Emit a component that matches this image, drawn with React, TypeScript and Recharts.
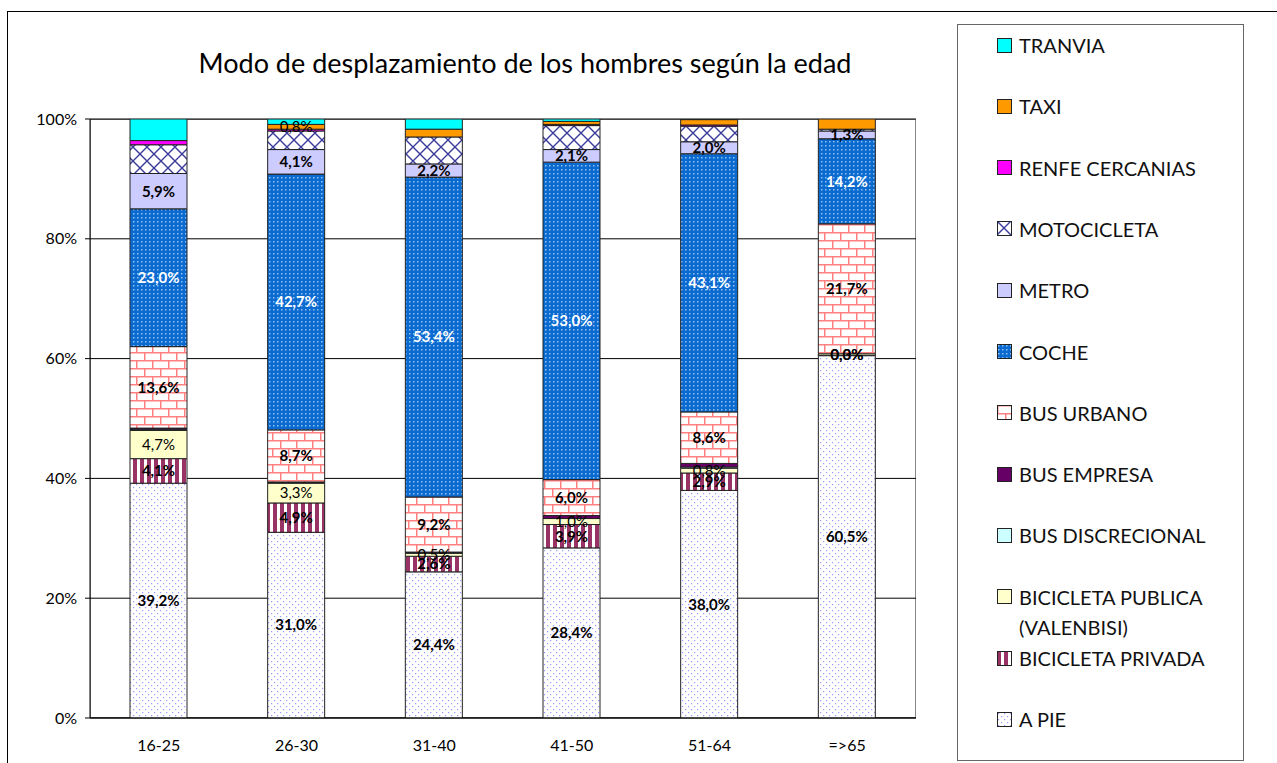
import React from "react";
import {
  BarChart,
  Bar,
  XAxis,
  YAxis,
  CartesianGrid,
  LabelList,
} from "recharts";

const FONT = "Lato, 'Noto Sans', sans-serif";

const ages = ["16-25", "26-30", "31-40", "41-50", "51-64", "=>65"];

// percentages per age group, bottom of the stack first
const aPie = [39.2, 31.0, 24.4, 28.4, 38.0, 60.5];
const biciPrivada = [4.1, 4.9, 2.6, 3.9, 2.9, 0.0];
const biciPublica = [4.7, 3.3, 0.5, 1.0, 0.8, 0.3];
const busDiscrecional = [0.2, 0.1, 0.1, 0.0, 0.2, 0.0];
const busEmpresa = [0.2, 0.1, 0.1, 0.5, 0.6, 0.0];
const busUrbano = [13.6, 8.7, 9.2, 6.0, 8.6, 21.7];
const coche = [23.0, 42.7, 53.4, 53.0, 43.1, 14.2];
const metro = [5.9, 4.1, 2.2, 2.1, 2.0, 1.3];
const motocicleta = [4.8, 3.1, 4.5, 4.0, 2.6, 0.3];
const renfe = [0.7, 0.3, 0.0, 0.2, 0.2, 0.0];
const taxi = [0.0, 0.8, 1.3, 0.5, 0.9, 1.7];
const tranvia = [3.6, 0.9, 1.7, 0.4, 0.1, 0.0];
const taxiLabels = ["", "0,8%", "", "", "", ""];

const yTicks = [0, 20, 40, 60, 80, 100];

// key, legend name, values, fill, label style (null = no label)
const series = [
  { key: "apie", name: "A PIE", values: aPie, fill: "url(#pApie)", label: { bold: true, color: "#000" } },
  { key: "bpriv", name: "BICICLETA PRIVADA", values: biciPrivada, fill: "url(#pBpriv)", label: { bold: true, color: "#000" } },
  { key: "bpub", name: "BICICLETA PUBLICA\n(VALENBISI)", values: biciPublica, fill: "#FFFFCC", label: { bold: false, color: "#000" } },
  { key: "bdisc", name: "BUS DISCRECIONAL", values: busDiscrecional, fill: "#CCFFFF", label: null },
  { key: "bemp", name: "BUS EMPRESA", values: busEmpresa, fill: "#660066", label: null },
  { key: "burb", name: "BUS URBANO", values: busUrbano, fill: "url(#pBurb)", label: { bold: true, color: "#000" } },
  { key: "coche", name: "COCHE", values: coche, fill: "url(#pCoche)", label: { bold: true, color: "#fff" } },
  { key: "metro", name: "METRO", values: metro, fill: "#CCCCFF", label: { bold: true, color: "#000" } },
  { key: "moto", name: "MOTOCICLETA", values: motocicleta, fill: "url(#pMoto)", label: null },
  { key: "renfe", name: "RENFE CERCANIAS", values: renfe, fill: "#FF00FF", label: null },
  { key: "taxi", name: "TAXI", values: taxi, fill: "#FF9900", label: null },
  { key: "tranvia", name: "TRANVIA", values: tranvia, fill: "#00FFFF", label: null },
];

const data = ages.map((age, i) => {
  const row: any = { age, taxiLbl: taxiLabels[i] };
  series.forEach((s) => (row[s.key] = s.values[i]));
  return row;
});

const pct = (v: any) => `${Number(v).toFixed(1).replace(".", ",")}%`;

function Patterns() {
  return (
    <svg width={0} height={0} style={{ position: "absolute" }}>
      <defs>
        <pattern id="pApie" width="6" height="6" patternUnits="userSpaceOnUse">
          <rect width="6" height="6" fill="#fff" />
          <rect x="1" y="1" width="1.2" height="1.2" fill="#9999ff" />
          <rect x="4" y="4" width="1.2" height="1.2" fill="#9999ff" />
        </pattern>
        <pattern id="pBpriv" width="7" height="7" patternUnits="userSpaceOnUse">
          <rect width="7" height="7" fill="#fff" />
          <rect x="0" y="0" width="4" height="7" fill="#993366" />
        </pattern>
        <pattern id="pBurb" width="16" height="16" patternUnits="userSpaceOnUse">
          <rect width="16" height="16" fill="#fff" />
          <path d="M0 0.75H16M0 8.75H16M0.75 0V8M8.75 8V16" stroke="#ff8080" strokeWidth="1.5" />
        </pattern>
        <pattern id="pCoche" width="4" height="4" patternUnits="userSpaceOnUse">
          <rect width="4" height="4" fill="#0a6ad0" />
          <rect x="1" y="1" width="1.5" height="1.5" fill="#8fc2f5" />
        </pattern>
        <pattern id="pMoto" width="14" height="14" patternUnits="userSpaceOnUse">
          <rect width="14" height="14" fill="#fff" />
          <path d="M0 0L14 14M14 0L0 14" stroke="#3a3a9a" strokeWidth="1.4" />
        </pattern>
      </defs>
    </svg>
  );
}

function LegendBox() {
  const items = [...series].reverse();
  return (
    <div
      style={{
        position: "absolute",
        left: 957,
        top: 24,
        width: 287,
        height: 737,
        boxSizing: "border-box",
        border: "1px solid #666",
        background: "#fff",
      }}
    >
      {items.map((s, i) => {
        const cy = 20 + i * 61.3;
        const lines = s.name.split("\n");
        return (
          <div key={s.key}>
            <svg
              width={15}
              height={15}
              style={{ position: "absolute", left: 39, top: cy - 7.5 }}
            >
              <rect x={0.5} y={0.5} width={14} height={14} fill={s.fill} stroke="#222" strokeWidth={1} />
            </svg>
            {lines.map((ln, j) => (
              <div
                key={j}
                style={{
                  position: "absolute",
                  left: 61,
                  top: cy - 12 + j * 30,
                  fontSize: 20,
                  lineHeight: "24px",
                  color: "#111",
                  whiteSpace: "nowrap",
                }}
              >
                {ln}
              </div>
            ))}
          </div>
        );
      })}
    </div>
  );
}

export default function App() {
  return (
    <div
      style={{
        position: "absolute",
        left: 0,
        top: 0,
        width: 1277,
        height: 763,
        overflow: "hidden",
        background: "#fff",
        fontFamily: FONT,
      }}
    >
      <Patterns />
      <div
        style={{
          position: "absolute",
          left: 7,
          top: 11,
          width: 1280,
          height: 760,
          borderTop: "1.5px solid #000",
          borderLeft: "1.5px solid #000",
        }}
      />
      <div
        style={{
          position: "absolute",
          left: 90,
          top: 119,
          width: 826,
          height: 599,
          boxSizing: "border-box",
          border: "1px solid #888",
        }}
      />
      <div
        style={{
          position: "absolute",
          left: 0,
          top: 46,
          width: 1050,
          textAlign: "center",
          fontSize: 27,
          color: "#000",
        }}
      >
        Modo de desplazamiento de los hombres según la edad
      </div>
      <div style={{ position: "absolute", left: 0, top: 0 }}>
        <BarChart
          width={930}
          height={763}
          data={data}
          margin={{ top: 119, right: 14, bottom: 15, left: 0 }}
          barSize={57}
        >
          <CartesianGrid horizontal={true} vertical={false} stroke="#000" strokeWidth={1} />
          <XAxis
            dataKey="age"
            height={30}
            axisLine={{ stroke: "#000" }}
            tickLine={false}
            tickMargin={16}
            tick={{ fontSize: 16, fill: "#000", fontFamily: FONT }}
          />
          <YAxis
            width={90}
            domain={[0, 100]}
            ticks={yTicks}
            allowDataOverflow={true}
            tickFormatter={(v) => `${v}%`}
            axisLine={{ stroke: "#000" }}
            tickLine={{ stroke: "#000" }}
            tickSize={5}
            tickMargin={8}
            tick={{ fontSize: 16, fill: "#000", fontFamily: FONT }}
          />
          {series.map((s) => (
            <Bar
              key={s.key}
              dataKey={s.key}
              name={s.name}
              stackId="a"
              fill={s.fill}
              stroke="#222"
              strokeWidth={1}
              minPointSize={s.key === "bpriv" ? 1 : 0}
              isAnimationActive={false}
            >
              {s.label && (
                <LabelList
                  dataKey={s.key}
                  position="center"
                  formatter={pct}
                  style={{
                    fontSize: 15,
                    fontWeight: s.label.bold ? 700 : 400,
                    fill: s.label.color,
                    fontFamily: FONT,
                  }}
                />
              )}
              {s.key === "taxi" && (
                <LabelList
                  dataKey="taxiLbl"
                  position="center"
                  style={{ fontSize: 15, fill: "#000", fontFamily: FONT }}
                />
              )}
            </Bar>
          ))}
        </BarChart>
      </div>
      <LegendBox />
    </div>
  );
}
